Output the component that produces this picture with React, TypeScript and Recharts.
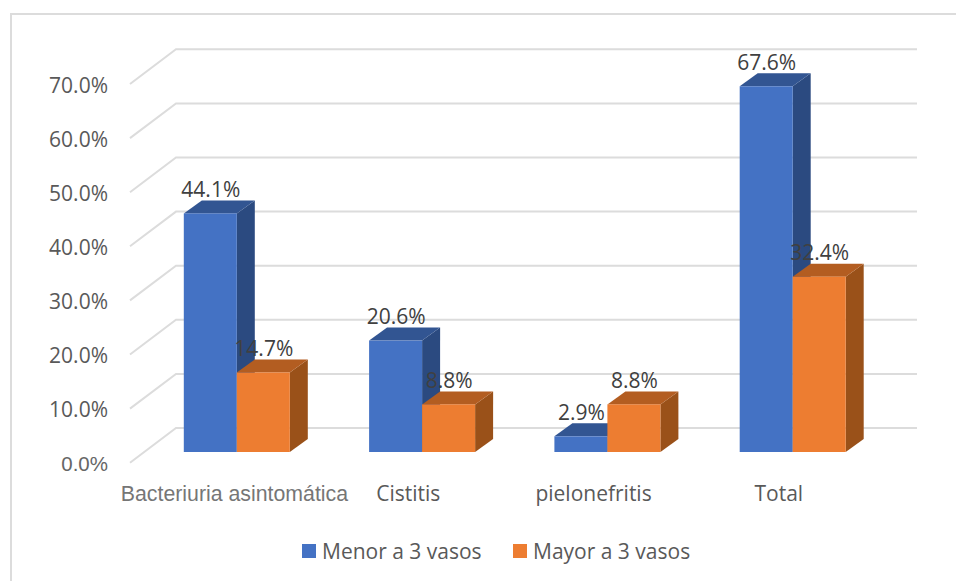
import { BarChart, Bar, XAxis, YAxis, CartesianGrid, LabelList, Legend } from 'recharts';

const categories = ['Bacteriuria asintomática', 'Cistitis', 'pielonefritis', 'Total'];
const menorValues = [44.1, 20.6, 2.9, 67.6];
const mayorValues = [14.7, 8.8, 8.8, 32.4];
const yTicks = [0, 10, 20, 30, 40, 50, 60, 70];

const chartData = categories.map((name, i) => ({
  name,
  menor: menorValues[i],
  mayor: mayorValues[i],
}));

const BLUE = { front: '#4472C4', side: '#2B4A80', top: '#325592' };
const ORANGE = { front: '#ED7D31', side: '#9A5119', top: '#B35D21' };

const SANS = '"Open Sans", sans-serif';
const ARIAL = '"Liberation Sans", Arial, sans-serif';

// depth of the extruded bars and of the back wall
const BAR_DX = 18;
const BAR_DY = 13;
const WALL_X1 = 130;
const WALL_X2 = 176;
const WALL_END = 917;

const Bar3D = (palette: typeof BLUE) => (props: any) => {
  const { x, y, width, height } = props;
  const r = x + width;
  const b = y + height;
  return (
    <g>
      <path
        d={`M${r},${y} L${r + BAR_DX},${y - BAR_DY} L${r + BAR_DX},${b - BAR_DY} L${r},${b} Z`}
        fill={palette.side}
      />
      <path
        d={`M${x},${y} L${x + BAR_DX},${y - BAR_DY} L${r + BAR_DX},${y - BAR_DY} L${r},${y} Z`}
        fill={palette.top}
      />
      <rect x={x} y={y} width={width} height={height} fill={palette.front} />
    </g>
  );
};

// floor/wall line: runs up the side wall, then across the back
const WallLine = (props: any) => {
  const { y1 } = props;
  return (
    <polyline
      points={`${WALL_X1},${y1 + 10.7} ${WALL_X2},${y1 - 24} ${WALL_END},${y1 - 24}`}
      fill="none"
      stroke="#DCDCDC"
      strokeWidth={2}
    />
  );
};

const YTick = ({ y, payload }: any) => (
  <text
    x={108}
    y={payload.value === 0 ? y + 18.5 : y + 19.5}
    textAnchor="end"
    fontSize={payload.value === 0 ? 20.5 : 21}
    fill={payload.value === 0 ? '#666666' : '#595959'}
    fontFamily={payload.value === 0 ? ARIAL : SANS}
  >
    {`${payload.value.toFixed(1)}%`}
  </text>
);

const XTick = ({ x, y, payload, index }: any) => (
  <text
    x={index === 0 ? x - 2 : x - 13.5}
    y={y + 40.5}
    textAnchor="middle"
    fontSize={index === 0 ? 21.3 : 21}
    fill={index === 0 ? '#767676' : '#595959'}
    fontFamily={index === 0 ? ARIAL : SANS}
  >
    {payload.value}
  </text>
);

const LegendRow = ({ payload }: any) => (
  <div style={{ position: 'relative', height: 30, fontFamily: SANS, fontSize: 21, color: '#595959' }}>
    {(payload || []).map((entry: any, i: number) => (
      <div
        key={entry.value}
        style={{ position: 'absolute', left: i === 0 ? 302 : 513, top: 0, display: 'flex', alignItems: 'center', height: 30 }}
      >
        <span style={{ width: 14, height: 14, background: entry.color, marginRight: 6 }} />
        <span style={{ whiteSpace: 'nowrap' }}>{entry.value}</span>
      </div>
    ))}
  </div>
);

const valueLabel = (v: any) => `${Number(v).toFixed(1)}%`;

const PercentLabel = ({ x, y, width, value }: any) => (
  <text x={x + width / 2 + 0.5} y={y - 16.5} textAnchor="middle" fontSize={21} fill="#404040" fontFamily={SANS}>
    {valueLabel(value)}
  </text>
);

export default function App() {
  return (
    <div style={{ position: 'absolute', left: 0, top: 0, width: 956, height: 581, background: '#fff' }}>
      <div
        style={{
          position: 'absolute',
          left: 10,
          top: 13,
          right: 0,
          bottom: 0,
          borderTop: '2px solid #DCDCDC',
          borderLeft: '2px solid #DCDCDC',
        }}
      />
      <BarChart
        width={956}
        height={581}
        data={chartData}
        margin={{ top: 73.3, right: 71, bottom: 0, left: 0 }}
        barSize={53}
        barGap={0}
        style={{ position: 'absolute', left: 0, top: 0 }}
      >
        <CartesianGrid vertical={false} horizontal={WallLine} />
        <XAxis dataKey="name" axisLine={false} tickLine={false} height={99} tick={XTick} interval={0} />
        <YAxis
          domain={[0, 70]}
          ticks={yTicks}
          width={143.8}
          axisLine={false}
          tickLine={false}
          tick={YTick}
        />
        <Bar dataKey="menor" name="Menor a 3 vasos" fill={BLUE.front} shape={Bar3D(BLUE)} isAnimationActive={false}>
          <LabelList dataKey="menor" content={PercentLabel} />
        </Bar>
        <Bar dataKey="mayor" name="Mayor a 3 vasos" fill={ORANGE.front} shape={Bar3D(ORANGE)} isAnimationActive={false}>
          <LabelList dataKey="mayor" content={PercentLabel} />
        </Bar>
        <Legend
          content={LegendRow}
          itemSorter={null}
          verticalAlign="bottom"
          height={30}
          wrapperStyle={{ left: 0, width: 956, top: 536 }}
        />
      </BarChart>
    </div>
  );
}
